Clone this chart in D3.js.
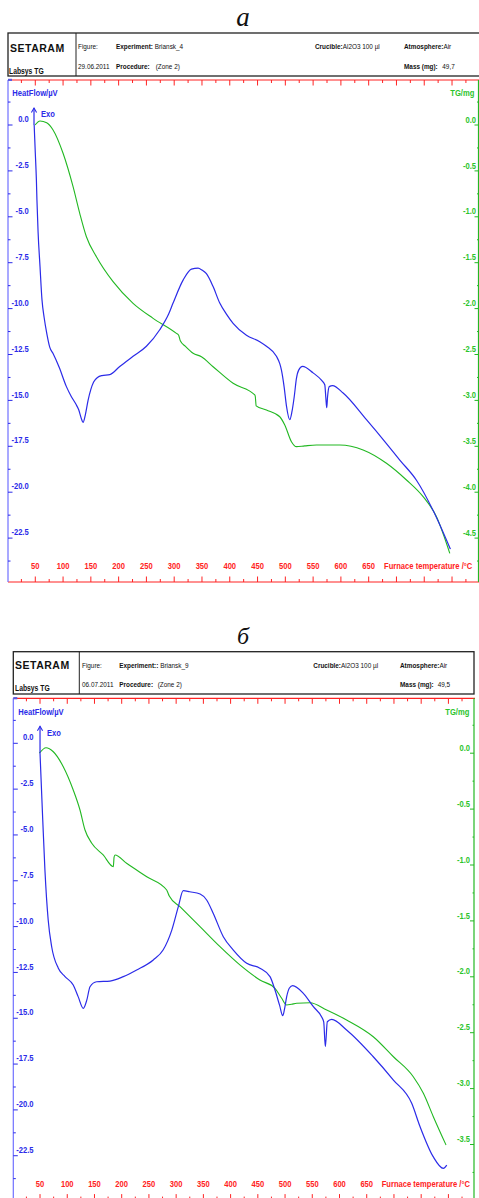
<!DOCTYPE html>
<html><head><meta charset="utf-8">
<script src="https://cdn.jsdelivr.net/npm/d3@7"></script>
<style>
body{margin:0;background:#fff}
svg{display:block}
text{font-family:"Liberation Sans",Arial,sans-serif}
</style>
</head><body>
<svg id="c" width="479" height="1198"></svg>
<script>
// ---------- data ----------
const tempTicks = [50,100,150,200,250,300,350,400,450,500,550,600,650];
const hfTicks = [0,-2.5,-5,-7.5,-10,-12.5,-15,-17.5,-20,-22.5];
const tgTicksA = [0,-0.5,-1,-1.5,-2,-2.5,-3,-3.5,-4,-4.5];
const tgTicksB = [0,-0.5,-1,-1.5,-2,-2.5,-3,-3.5];
const titles = ["а","б"];
const experiments = ["Briansk_4","Briansk_9"];
const dates = ["29.06.2011","06.07.2011"];
const masses = ["49,7","49,5"];

// panel a heat flow (T °C, µV)
const dtaA = [[48,0.0],[50,-1.5],[52,-3.0],[53,-4.1],[55,-5.8],[58.5,-7.7],[62,-9.5],[66,-10.5],[71,-11.4],[76,-12.1],[82,-12.45],[93,-13.2],[106,-14.25],[115,-14.8],[123,-15.2],[128,-15.5],[133,-16.0],[136,-16.2],[140,-15.8],[145,-15.0],[150,-14.4],[155,-14.0],[162,-13.75],[170,-13.65],[184,-13.6],[202,-13.15],[226,-12.6],[250,-12.05],[274,-11.15],[290,-10.3],[298,-9.7],[316,-8.45],[331,-7.85],[343,-7.8],[350,-7.9],[358,-8.1],[370,-8.8],[382,-9.7],[394,-10.3],[406,-10.8],[430,-11.45],[454,-11.8],[466,-12.05],[484,-12.6],[490,-13.0],[493,-13.35],[498,-14.3],[502,-15.3],[508,-16.05],[512,-15.6],[516,-14.8],[520,-13.8],[524,-13.35],[531,-13.15],[550,-13.5],[565,-13.9],[571,-14.15],[573,-14.9],[574.5,-15.4],[576,-14.8],[579,-14.25],[585,-14.2],[604,-14.6],[646,-16.05],[682,-17.35],[706,-18.25],[736,-19.35],[766,-21.0],[797,-23.1]];
// panel a mass change (T °C, mg)
const tgA = [[49.5,0.0],[58.5,0.044],[70.5,0.025],[82,-0.054],[100,-0.308],[118,-0.672],[130,-0.962],[142,-1.217],[160,-1.435],[190,-1.707],[226,-1.943],[262,-2.106],[304,-2.27],[308,-2.29],[311,-2.35],[320,-2.41],[334,-2.487],[349,-2.524],[370,-2.633],[406,-2.814],[445,-2.941],[446,-2.96],[447.5,-3.06],[466,-3.105],[490,-3.178],[499,-3.268],[511,-3.45],[520,-3.504],[535,-3.495],[556,-3.486],[598,-3.486],[640,-3.54],[682,-3.685],[718,-3.867],[748,-4.049],[772,-4.267],[796,-4.666]];
// panel b heat flow
const dtaB = [[50,-0.55],[55,-4.18],[59,-6.91],[65,-9.64],[71.4,-11.1],[83.6,-12.27],[95.9,-12.73],[111,-13.19],[120,-13.82],[129.5,-14.46],[136,-14.0],[141.8,-13.28],[154,-13.01],[178.5,-12.97],[203,-12.73],[227.5,-12.37],[258,-11.82],[276,-11.28],[292,-10.19],[304,-8.91],[313,-8.04],[325,-8.1],[344,-8.22],[356,-8.55],[368,-9.27],[386.6,-10.55],[405,-11.28],[429.6,-12.0],[453.8,-12.27],[472.4,-12.73],[481.5,-13.46],[490,-14.3],[495.7,-14.86],[499,-14.5],[503,-13.82],[508,-13.35],[514,-13.22],[533.5,-13.64],[552,-14.37],[567,-14.92],[571,-15.2],[574,-16.55],[577.6,-15.19],[585.7,-15.06],[613,-15.64],[662,-17.1],[699,-18.37],[732.6,-19.64],[748,-20.92],[772,-22.55],[790.6,-23.19],[797,-23.01]];
// panel b mass change
const tgB = [[48.7,0.0],[61,0.049],[74.4,0.013],[92.7,-0.121],[111,-0.329],[123.4,-0.508],[132.6,-0.687],[145,-0.805],[166,-0.91],[184.6,-1.015],[186,-0.93],[187.7,-0.91],[209,-0.985],[246,-1.105],[282.6,-1.224],[285,-1.25],[287.4,-1.278],[307,-1.373],[343.8,-1.552],[380.5,-1.731],[417,-1.894],[453.8,-2.029],[481.5,-2.103],[493.8,-2.192],[503,-2.252],[512,-2.245],[521.4,-2.237],[545.8,-2.232],[576.5,-2.297],[613,-2.386],[662,-2.536],[699,-2.715],[735.5,-2.894],[754,-3.042],[772.3,-3.251],[795.6,-3.504]];

// ---------- layout ----------
const RED="#ff2222", BLUE="#2b2be8", BLUEAX="#7070ff", GREEN="#22b822", GREENTX="#2cc42c", BLK="#222";
const NARROW=0.8;
const layouts = [
 {title:{x:243,y:26,size:27},
  box:{x0:8,y0:33,x1:480,y1:76,div:76},
  hdr:{set:[10,51.7],lab:[9,74],fig:78,col2:116,cru:315,atm:404,l1:49.5,l2:69.5,zone:155.7,massv:442.3},
  left:8,right:478.5,top:80,bottom:582,
  xr:[7.5,478.7],tMax:848,h0:125,hPer:18.36,t0:125,tPer:91.8,
  hfLabelX:28.7,tgLabelX:476,titleBase:96,hfTitleX:12.3,tgTitleX:474.3,
  xLabBase:569,furnX:384,exoT:47.7,tgTicks:tgTicksA},
 {title:{x:243,y:644,size:24},
  box:{x0:13.3,y0:651.7,x1:474,y1:694,div:79.3},
  hdr:{set:[15,669.3],lab:[15,690.7],fig:82,col2:119.3,cru:313.3,atm:400,l1:668.3,l2:686.7,zone:157.7,massv:437.7},
  left:13.3,right:474,top:698.3,bottom:1199.6,
  xr:[12.8,474],tMax:847,h0:743.3,hPer:18.33,t0:753.2,tPer:111.8,
  hfLabelX:33.5,tgLabelX:470,titleBase:715,hfTitleX:18.3,tgTitleX:469.3,
  xLabBase:1186.7,furnX:381.7,exoT:50,tgTicks:tgTicksB}
];
const dta=[dtaA,dtaB], tg=[tgA,tgB];

const svg=d3.select("#c");
svg.append("rect").attr("width",479).attr("height",1198).attr("fill","#fff");

layouts.forEach((L,i)=>{
  const g=svg.append("g");
  // title
  g.append("text").attr("x",L.title.x).attr("y",L.title.y).attr("text-anchor","middle")
    .style("font-family","'Liberation Serif','Times New Roman',serif").style("font-style","italic")
    .style("font-size",L.title.size+"px").attr("fill","#111").text(titles[i]);
  // header box
  const B=L.box;
  g.append("rect").attr("x",B.x0).attr("y",B.y0).attr("width",B.x1-B.x0).attr("height",B.y1-B.y0)
    .attr("fill","none").attr("stroke",BLK).attr("stroke-width",1.3);
  g.append("line").attr("x1",B.div).attr("x2",B.div).attr("y1",B.y0).attr("y2",B.y1).attr("stroke",BLK).attr("stroke-width",1);
  const H=L.hdr;
  const t=(x,y,s,opt={})=>g.append("text").attr("class",opt.wide?null:"n").attr("x",x).attr("y",y).attr("fill",opt.fill||"#111")
      .attr("text-anchor",opt.anchor||"start")
      .style("font-size",(opt.size||7.5)+"px").style("font-weight",opt.bold?"bold":"normal")
      .style("letter-spacing",opt.ls||null).text(s);
  t(H.set[0],H.set[1],"SETARAM",{bold:true,size:10.5,ls:"0.5px",wide:true});
  t(H.lab[0],H.lab[1],"Labsys TG",{bold:true,size:8.5});
  t(H.fig,H.l1,"Figure:",{size:8});
  t(H.fig,H.l2,dates[i],{size:8});
  const e=t(H.col2,H.l1,"",{size:8});
  e.append("tspan").style("font-weight","bold").text(i===0?"Experiment:":"Experiment::");
  e.append("tspan").text(" "+experiments[i]);
  t(H.col2,H.l2,"Procedure:",{bold:true,size:8});
  t(H.zone,H.l2,"(Zone 2)",{size:8});
  const c=t(H.cru,H.l1,"",{size:8});
  c.append("tspan").style("font-weight","bold").text("Crucible:");
  c.append("tspan").text("Al2O3 100 µl");
  const a=t(H.atm,H.l1,"",{size:8});
  a.append("tspan").style("font-weight","bold").text("Atmosphere:");
  a.append("tspan").text("Air");
  t(H.atm,H.l2,"Mass (mg):",{bold:true,size:8});
  t(H.massv,H.l2,masses[i],{size:8});

  // scales
  const x=d3.scaleLinear().domain([0,L.tMax]).range(L.xr);
  const yH=d3.scaleLinear().domain([0,-22.5]).range([L.h0,L.h0+22.5*L.hPer]);
  const yT=d3.scaleLinear().domain([0,-1]).range([L.t0,L.t0+L.tPer]);

  // frame axes
  g.append("line").attr("x1",L.left).attr("x2",L.right+1).attr("y1",L.top).attr("y2",L.top).attr("stroke",RED).attr("stroke-width",1.2);
  g.append("line").attr("x1",L.left).attr("x2",L.right+1).attr("y1",L.bottom).attr("y2",L.bottom).attr("stroke",RED).attr("stroke-width",1.2);
  g.append("line").attr("x1",L.left).attr("x2",L.left).attr("y1",L.top).attr("y2",L.bottom).attr("stroke",BLUEAX).attr("stroke-width",1.2);
  g.append("line").attr("x1",L.right).attr("x2",L.right).attr("y1",L.top).attr("y2",L.bottom).attr("stroke",GREEN).attr("stroke-width",1.2);
  g.append("rect").attr("x",L.left).attr("y",L.top-1.2).attr("width",4).attr("height",2.2).attr("fill","#5a5adf");

  // temperature ticks (top & bottom)
  const tt=d3.range(25,L.tMax,25);
  tt.forEach(v=>{
    const major=v%50===0, len=major?5.5:3;
    g.append("line").attr("x1",x(v)).attr("x2",x(v)).attr("y1",L.top).attr("y2",L.top+len).attr("stroke",RED).attr("stroke-width",1);
    g.append("line").attr("x1",x(v)).attr("x2",x(v)).attr("y1",L.bottom).attr("y2",L.bottom-len).attr("stroke",RED).attr("stroke-width",1);
  });
  tempTicks.forEach(d=>t(x(d),L.xLabBase,String(d),{bold:true,size:9.5,fill:RED,anchor:"middle"}));
  t(L.furnX,L.xLabBase,"Furnace temperature /°C",{bold:true,size:9.5,fill:RED});

  // heat flow axis ticks
  for(let v=2.5; yH(v)<=L.bottom; v-=1.25){
    const y=yH(v); if(y<L.top) continue;
    const major=Math.abs(v/2.5-Math.round(v/2.5))<1e-6;
    g.append("line").attr("x1",L.left).attr("x2",L.left+(major?4.5:2.5)).attr("y1",y).attr("y2",y).attr("stroke",BLUE).attr("stroke-width",1);
  }
  hfTicks.forEach(d=>t(L.hfLabelX,yH(d)-2.8,d.toFixed(1),{bold:true,size:9.5,fill:BLUE,anchor:"end"}));
  // TG axis ticks
  for(let v=0.5; yT(v)<=L.bottom; v-=0.25){
    const y=yT(v); if(y<L.top) continue;
    const major=Math.abs(v/0.5-Math.round(v/0.5))<1e-6;
    g.append("line").attr("x1",L.right).attr("x2",L.right-(major?4:1.5)).attr("y1",y).attr("y2",y).attr("stroke",GREEN).attr("stroke-width",1);
  }
  L.tgTicks.forEach(d=>t(L.tgLabelX,yT(d)-2.3,d.toFixed(1),{bold:true,size:9.5,fill:GREENTX,anchor:"end"}));

  // axis titles
  t(L.hfTitleX,L.titleBase,"HeatFlow/µV",{bold:true,size:9.5,fill:BLUE});
  t(L.tgTitleX,L.titleBase,"TG/mg",{bold:true,size:9.5,fill:GREENTX,anchor:"end"});

  // curves
  const lineH=d3.line().x(d=>x(d[0])).y(d=>yH(d[1])).curve(d3.curveMonotoneX);
  const lineT=d3.line().x(d=>x(d[0])).y(d=>yT(d[1])).curve(d3.curveMonotoneX);
  g.append("path").attr("d",lineT(tg[i])).attr("fill","none").attr("stroke",GREEN).attr("stroke-width",1.1);
  g.append("path").attr("d",lineH(dta[i])).attr("fill","none").attr("stroke",BLUE).attr("stroke-width",1.2);

  // Exo arrow
  const ax=x(L.exoT), base=yH(dta[i][0][1]), tip=yH(0)-17;
  g.append("line").attr("x1",ax).attr("x2",ax).attr("y1",base).attr("y2",tip).attr("stroke",BLUE).attr("stroke-width",1.2);
  g.append("path").attr("d",`M${ax-2.6},${tip+4.5}L${ax},${tip}L${ax+2.6},${tip+4.5}`).attr("fill","none").attr("stroke",BLUE).attr("stroke-width",1.1);
  t(ax+7,tip+9.5,"Exo",{bold:true,size:9.5,fill:BLUE});
});

// condense narrow texts (Arial Narrow look)
svg.selectAll("text.n").each(function(){
  const s=d3.select(this), x=+s.attr("x");
  s.attr("x",x/NARROW).attr("transform",`scale(${NARROW},1)`);
});
</script>
</body></html>
